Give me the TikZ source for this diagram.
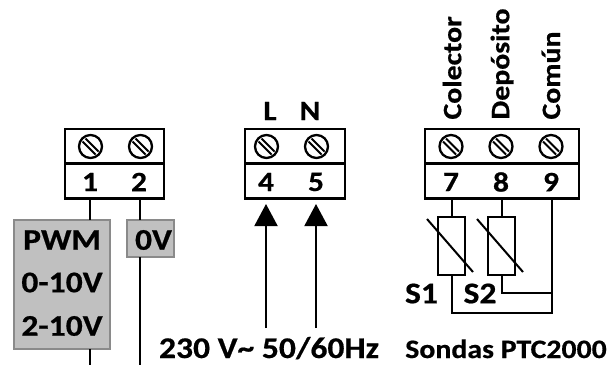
\documentclass[tikz,border=0pt]{standalone}
\usepackage{fontspec}
\setmainfont[FakeStretch=1.12, BoldFeatures={FakeBold=0.6}]{Carlito}
\usetikzlibrary{arrows.meta}
\definecolor{boxgray}{HTML}{C0C0C0}
\definecolor{boxedge}{HTML}{8A8A8A}
\begin{document}
\begin{tikzpicture}[x=1pt, y=-1pt, line width=2.4pt,
        every node/.style={inner sep=0pt, outer sep=0pt, font=\bfseries\fontsize{28}{28}\selectfont},
        big/.style={font=\bfseries\fontsize{30}{30}\selectfont},
        small/.style={font=\bfseries\fontsize{26.6}{27}\selectfont},
        cell/.style={draw, minimum height=35pt},
        screw/.style={circle, draw, line width=2.3pt, minimum size=23pt, path picture={
            \draw[line width=1.8pt] ([shift={(-8pt,5pt)}]path picture bounding box.center) -- ([shift={(5pt,-8pt)}]path picture bounding box.center);
            \draw[line width=1.8pt] ([shift={(-5pt,8pt)}]path picture bounding box.center) -- ([shift={(8pt,-5pt)}]path picture bounding box.center);
        }},
        grey/.style={draw=boxedge, fill=boxgray, line width=2pt},
        sensor/.style={draw, minimum width=27pt, minimum height=58pt},
        feed/.style={-{Triangle[length=22pt, width=23pt]}, line width=2pt},
        wire/.style={line width=2pt}]
    \useasboundingbox (0, 0) rectangle (610, 365);

    \node[cell, minimum width=99pt] (topa) at (114.5, 146.5) {};
    \node[cell, minimum width=99pt] (bota) at (114.5, 181) {};
    \node[cell, minimum width=100pt] (topb) at (295, 146.5) {};
    \node[cell, minimum width=100pt] (botb) at (295, 181) {};
    \node[cell, minimum width=154pt] (topc) at (502, 146.5) {};
    \node[cell, minimum width=154pt] (botc) at (502, 181) {};

    \node[screw] (s1) at (90.5, 146.5) {};
    \node[screw] (s2) at (140.5, 146.5) {};
    \node[screw] (s4) at (266.5, 146.5) {};
    \node[screw] (s5) at (316.5, 146.5) {};
    \node[screw] (s7) at (451, 146.5) {};
    \node[screw] (s8) at (501, 146.5) {};
    \node[screw] (s9) at (551, 146.5) {};

    \node (n1) at (90, 182) {1};
    \node (n2) at (139, 182) {2};
    \node (n4) at (266, 182) {4};
    \node (n5) at (316, 182) {5};
    \node (n7) at (451, 182) {7};
    \node (n8) at (501, 182) {8};
    \node (n9) at (551, 182) {9};

    \node (l) at (270, 111) {L};
    \node (n) at (310, 111) {N};
    \node[small, rotate=90, anchor=west] (col) at (452, 119.5) {Colector};
    \node[small, rotate=90, anchor=west] (dep) at (502, 119.5) {Depósito};
    \node[small, rotate=90, anchor=west] (com) at (551, 119.5) {Común};

    \node[grey, minimum width=96pt, minimum height=129pt] (pwm) at (62, 284.5) {};
    \node[big] (pwma) at (62, 240) {PWM};
    \node[big] (pwmb) at (62, 282.5) {0-10V};
    \node[big] (pwmc) at (62, 326) {2-10V};
    \node[grey, minimum width=47pt, minimum height=37pt] (zero) at (150.5, 238.5) {};
    \node[big] (zerot) at (153.5, 240) {0V};

    \node[sensor] (r1) at (451.5, 246) {};
    \node[sensor] (r2) at (501.5, 246) {};
    \node[big] (t1) at (421.5, 293.5) {S1};
    \node[big] (t2) at (480, 293.5) {S2};

    \node[big, anchor=base, text depth=0pt] (mains) at (269, 358) {230 V\textasciitilde{} 50/60Hz};
    \node[small, anchor=base, text depth=0pt] (ptc) at (506, 358) {Sondas PTC2000};

    \coordinate (o1) at (90, 198.5);
    \coordinate (o2) at (140, 198.5);
    \coordinate (i4) at (266, 204);
    \coordinate (i5) at (316, 204);
    \coordinate (f4) at (266, 328);
    \coordinate (f5) at (316, 328);
    \coordinate (o7) at (451.5, 198.5);
    \coordinate (o8) at (501.5, 198.5);
    \coordinate (o9) at (552, 198.5);
    \coordinate (e1) at (90, 365);
    \coordinate (e2) at (140, 365);
    \coordinate (c1) at (552, 313);
    \coordinate (c2) at (552, 293);
    \coordinate (a1) at (427, 219);
    \coordinate (b1) at (473, 272);
    \coordinate (a2) at (477, 219);
    \coordinate (b2) at (523, 272);

    \draw[wire] (o1) -- (o1 |- pwm.north);
    \draw[wire] (o2) -- (o2 |- zero.north);
    \draw[wire] (o1 |- pwm.south) -- (e1);
    \draw[wire] (o2 |- zero.south) -- (e2);
    \draw[feed] (f4) -- (i4);
    \draw[feed] (f5) -- (i5);
    \draw[wire] (o7) -- (r1.north);
    \draw[wire] (o8) -- (r2.north);
    \draw[wire] (r1.south) |- (c1) -- (o9);
    \draw[wire] (r2.south) |- (c2);
    \draw[wire] (a1) -- (b1);
    \draw[wire] (a2) -- (b2);
\end{tikzpicture}
\end{document}
